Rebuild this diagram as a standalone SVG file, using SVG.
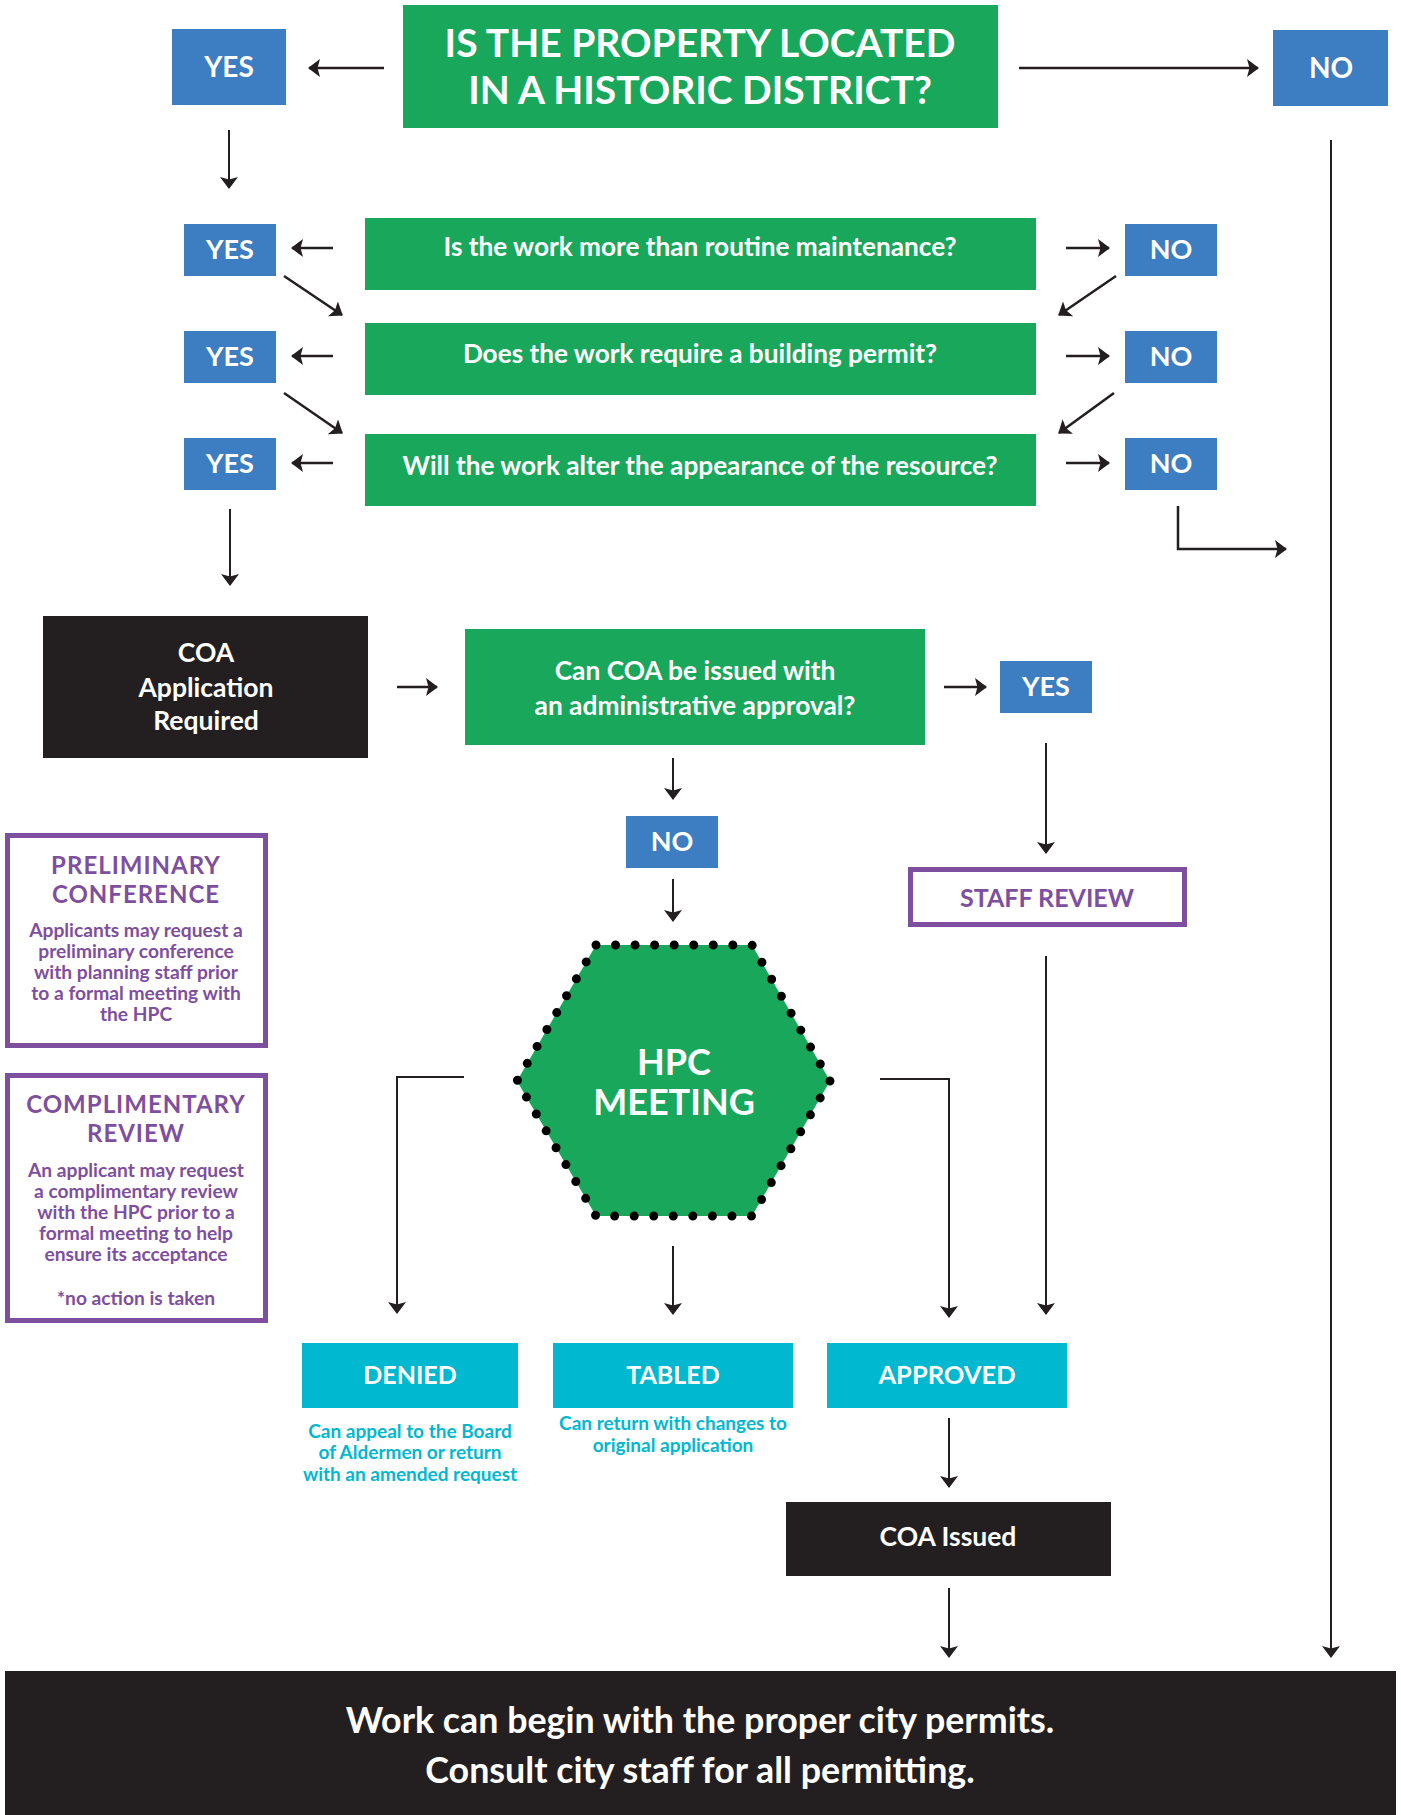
<svg xmlns="http://www.w3.org/2000/svg" width="1401" height="1815" viewBox="0 0 1401 1815">
<defs>
<marker id="ah" markerUnits="userSpaceOnUse" markerWidth="12" markerHeight="18" viewBox="0 0 12 18" refX="11" refY="9" orient="auto">
<path d="M0,0 L12,9 L0,18 L2.5,9 Z" fill="#231f20"/>
</marker>
<style>
text{font-family:"Lato","Liberation Sans",sans-serif;font-weight:700;text-anchor:middle}
.green{fill:#19a75c}
.blue{fill:#3d7dc1}
.black{fill:#231f20}
.cyan{fill:#00b8d0}
.pbox{fill:#fff;stroke:#7e4f9e;stroke-width:5}
.w{fill:#fff}
.p{fill:#7e4f9e}
.c{fill:#00b8d0}
.lbl{font-size:28px}
.row{font-size:26.2px}
.ptitle{font-size:24px;letter-spacing:1px}
.pbody{font-size:19.2px}
.cdesc{font-size:19px}
.conn line,.conn polyline{stroke:#231f20;stroke-width:2.5;fill:none;marker-end:url(#ah)}
.conn .thin{stroke-width:2}
</style>
</defs>

<g id="q-historic">
<rect class="green" x="403" y="5" width="595" height="123"/>
<text class="w" x="700" y="57" font-size="39">IS THE PROPERTY LOCATED</text>
<text class="w" x="700" y="104" font-size="39">IN A HISTORIC DISTRICT?</text>
</g>
<g id="yes-top"><rect class="blue" x="172" y="29" width="114" height="76"/><text class="w lbl" x="229" y="77">YES</text></g>
<g id="no-top"><rect class="blue" x="1273" y="30" width="115" height="76"/><text class="w lbl" x="1331" y="78">NO</text></g>

<g id="q-maintenance"><rect class="green" x="365" y="218" width="671" height="72"/><text class="w row" x="700" y="256">Is the work more than routine maintenance?</text></g>
<g id="yes-1"><rect class="blue" x="184" y="224" width="92" height="52"/><text class="w" font-size="27" x="230" y="259">YES</text></g>
<g id="no-1"><rect class="blue" x="1125" y="224" width="92" height="52"/><text class="w" font-size="27" x="1171" y="259">NO</text></g>

<g id="q-permit"><rect class="green" x="365" y="323" width="671" height="72"/><text class="w row" x="700" y="363">Does the work require a building permit?</text></g>
<g id="yes-2"><rect class="blue" x="184" y="331" width="92" height="52"/><text class="w" font-size="27" x="230" y="366">YES</text></g>
<g id="no-2"><rect class="blue" x="1125" y="331" width="92" height="52"/><text class="w" font-size="27" x="1171" y="366">NO</text></g>

<g id="q-appearance"><rect class="green" x="365" y="434" width="671" height="72"/><text class="w row" x="700" y="475">Will the work alter the appearance of the resource?</text></g>
<g id="yes-3"><rect class="blue" x="184" y="438" width="92" height="52"/><text class="w" font-size="27" x="230" y="473">YES</text></g>
<g id="no-3"><rect class="blue" x="1125" y="438" width="92" height="52"/><text class="w" font-size="27" x="1171" y="473">NO</text></g>

<g id="coa-required"><rect class="black" x="43" y="616" width="325" height="142"/>
<text class="w" font-size="26.5" x="206" y="662">COA</text>
<text class="w" font-size="26.5" x="206" y="697">Application</text>
<text class="w" font-size="26.5" x="206" y="730">Required</text></g>

<g id="q-admin"><rect class="green" x="465" y="629" width="460" height="116"/>
<text class="w" font-size="26.3" x="695" y="680">Can COA be issued with</text>
<text class="w" font-size="26.3" x="695" y="715">an administrative approval?</text></g>
<g id="yes-admin"><rect class="blue" x="1000" y="661" width="92" height="52"/><text class="w" font-size="27" x="1046" y="696">YES</text></g>
<g id="no-admin"><rect class="blue" x="626" y="816" width="92" height="52"/><text class="w" font-size="27" x="672" y="851">NO</text></g>

<g id="staff-review"><rect class="pbox" x="910.5" y="869.5" width="274" height="55" stroke-width="4.5"/><text class="p" font-size="25" x="1047" y="907">STAFF REVIEW</text></g>

<g id="preliminary"><rect class="pbox" x="7.5" y="835.5" width="258" height="210"/>
<text class="p ptitle" x="136" y="874">PRELIMINARY</text>
<text class="p ptitle" x="136" y="903">CONFERENCE</text>
<text class="p pbody" x="136" y="937">Applicants may request a</text>
<text class="p pbody" x="136" y="958">preliminary conference</text>
<text class="p pbody" x="136" y="979">with planning staff prior</text>
<text class="p pbody" x="136" y="1000">to a formal meeting with</text>
<text class="p pbody" x="136" y="1021">the HPC</text></g>

<g id="complimentary"><rect class="pbox" x="7.5" y="1075.5" width="258" height="245"/>
<text class="p ptitle" x="136" y="1113">COMPLIMENTARY</text>
<text class="p ptitle" x="136" y="1142">REVIEW</text>
<text class="p pbody" x="136" y="1177">An applicant may request</text>
<text class="p pbody" x="136" y="1198">a complimentary review</text>
<text class="p pbody" x="136" y="1219">with the HPC prior to a</text>
<text class="p pbody" x="136" y="1240">formal meeting to help</text>
<text class="p pbody" x="136" y="1261">ensure its acceptance</text>
<text class="p pbody" x="136" y="1305">*no action is taken</text></g>

<g id="hpc-meeting">
<polygon points="596,945 752,945 830,1081 752,1216 596,1216 517,1081" class="green" stroke="#000" stroke-width="9" stroke-linecap="round" stroke-dasharray="0 1" pathLength="48"/>
<text class="w" font-size="36" x="674" y="1075">HPC</text>
<text class="w" font-size="36" x="674" y="1115">MEETING</text></g>

<g id="denied"><rect class="cyan" x="302" y="1343" width="216" height="65"/><text class="w" font-size="25" x="410" y="1384">DENIED</text>
<text class="c cdesc" x="410" y="1438">Can appeal to the Board</text>
<text class="c cdesc" x="410" y="1459">of Aldermen or return</text>
<text class="c cdesc" x="410" y="1481">with an amended request</text></g>

<g id="tabled"><rect class="cyan" x="553" y="1343" width="240" height="65"/><text class="w" font-size="25" x="673" y="1384">TABLED</text>
<text class="c cdesc" x="673" y="1430">Can return with changes to</text>
<text class="c cdesc" x="673" y="1452">original application</text></g>

<g id="approved"><rect class="cyan" x="827" y="1343" width="240" height="65"/><text class="w" font-size="25.5" x="947" y="1384">APPROVED</text></g>

<g id="coa-issued"><rect class="black" x="786" y="1502" width="325" height="74"/><text class="w" font-size="26.5" x="948" y="1546">COA Issued</text></g>

<g id="work-begin"><rect class="black" x="5" y="1671" width="1391" height="144"/>
<text class="w" font-size="35.8" x="700" y="1733">Work can begin with the proper city permits.</text>
<text class="w" font-size="35.8" x="700" y="1783">Consult city staff for all permitting.</text></g>

<g id="connectors" class="conn">
<line x1="384" y1="68" x2="309" y2="68"/>
<line x1="1019" y1="68" x2="1258" y2="68"/>
<line class="thin" x1="229" y1="130" x2="229" y2="188"/>
<line class="thin" x1="1331" y1="140" x2="1331" y2="1657"/>
<line x1="333" y1="248" x2="292" y2="248"/>
<line x1="1066" y1="248" x2="1109" y2="248"/>
<line x1="284" y1="276" x2="342" y2="315"/>
<line x1="1116" y1="276" x2="1059" y2="315"/>
<line x1="333" y1="356" x2="292" y2="356"/>
<line x1="1066" y1="356" x2="1109" y2="356"/>
<line x1="284" y1="393" x2="342" y2="433"/>
<line x1="1114" y1="393" x2="1059" y2="433"/>
<line x1="333" y1="463" x2="292" y2="463"/>
<line x1="1066" y1="463" x2="1109" y2="463"/>
<polyline points="1178,506 1178,549 1286,549"/>
<line class="thin" x1="230" y1="509" x2="230" y2="585"/>
<line x1="397" y1="687" x2="437" y2="687"/>
<line x1="944" y1="687" x2="986" y2="687"/>
<line class="thin" x1="673" y1="758" x2="673" y2="799"/>
<line class="thin" x1="673" y1="879" x2="673" y2="921"/>
<line class="thin" x1="1046" y1="743" x2="1046" y2="853"/>
<line class="thin" x1="1046" y1="956" x2="1046" y2="1314"/>
<polyline class="thin" points="464,1077 397,1077 397,1313"/>
<line class="thin" x1="673" y1="1246" x2="673" y2="1314"/>
<polyline class="thin" points="880,1079 949,1079 949,1317"/>
<line class="thin" x1="949" y1="1418" x2="949" y2="1487"/>
<line class="thin" x1="949" y1="1588" x2="949" y2="1657"/>
</g>
</svg>
